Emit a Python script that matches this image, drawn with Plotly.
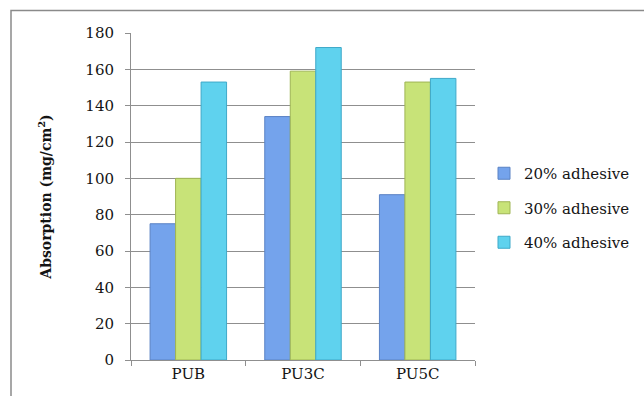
import plotly.graph_objects as go

# Sample groups and absorption values (mg/cm²) per adhesive content
categories = ["PUB", "PU3C", "PU5C"]
series_names = ["20% adhesive", "30% adhesive", "40% adhesive"]
adh_20 = [75, 134, 91]
adh_30 = [100, 159, 153]
adh_40 = [153, 172, 155]
y_ticks = [0, 20, 40, 60, 80, 100, 120, 140, 160, 180]

fill_colors = ["#74a3ec", "#c8e378", "#5fd2ee"]
edge_colors = ["#5a82c4", "#9fb554", "#3fa9c9"]

W, H = 644, 396
M_L, M_R, M_T, M_B = 131, 169, 33, 36
plot_w = W - M_L - M_R
plot_h = H - M_T - M_B

fig = go.Figure()
for i, (name, vals) in enumerate(zip(series_names, [adh_20, adh_30, adh_40])):
    fig.add_trace(go.Bar(
        x=categories,
        y=vals,
        name=name,
        legendgroup=name,
        marker=dict(color=fill_colors[i],
                    line=dict(color=edge_colors[i], width=1)),
    ))

grid = "#8f8f8f"
font_family = "DejaVu Serif"
text_color = "#141414"

fig.update_layout(
    width=W, height=H,
    margin=dict(l=M_L, r=M_R, t=M_T, b=M_B, autoexpand=False),
    paper_bgcolor="white",
    plot_bgcolor="white",
    barmode="group",
    bargap=0.333,
    bargroupgap=0,
    font=dict(family=font_family, size=15, color=text_color),
    legend=dict(
        x=(484 - M_L) / plot_w, xanchor="left",
        y=(H - M_B - 208) / plot_h, yanchor="middle",
        font=dict(family=font_family, size=15, color=text_color),
        itemwidth=30,
        tracegroupgap=12,
        traceorder="grouped",
        bgcolor="rgba(0,0,0,0)",
    ),
    xaxis=dict(
        showline=True, linecolor=grid, linewidth=1,
        ticks="outside", ticklen=5, tickcolor=grid,
        tickson="boundaries",
        showgrid=False,
        tickfont=dict(size=15, color=text_color),
    ),
    yaxis=dict(
        range=[0, 180],
        tickvals=y_ticks,
        showline=True, linecolor=grid, linewidth=1,
        ticks="outside", ticklen=5, tickcolor=grid,
        showgrid=True, gridcolor=grid, gridwidth=1,
        zeroline=False,
        ticklabelstandoff=8,
        tickfont=dict(size=15, color=text_color),
        title=dict(text="<b>Absorption (mg/cm<sup>2</sup>)</b>",
                   font=dict(size=14, color=text_color),
                   standoff=30),
    ),
    showlegend=True,
)

# Outer chart frame (extends past the right and bottom edges)
fig.add_shape(
    type="rect", xref="paper", yref="paper",
    x0=(11 - M_L) / plot_w, x1=(W + 20 - M_L) / plot_w,
    y0=-(M_B + 20) / plot_h, y1=(H - M_B - 10.5) / plot_h,
    line=dict(color="#8a8a8a", width=1.5),
    fillcolor="rgba(0,0,0,0)",
    layer="below",
)

fig.write_html("out.html")
